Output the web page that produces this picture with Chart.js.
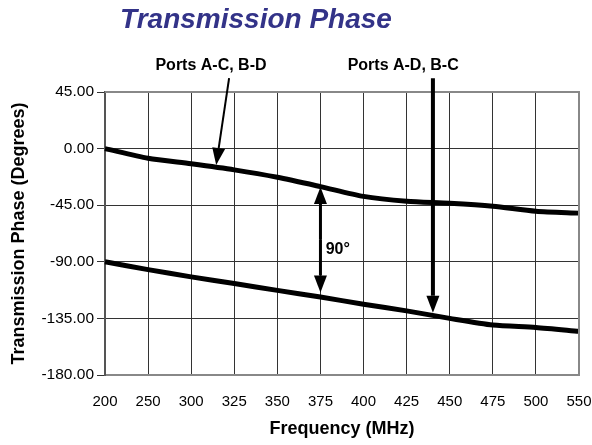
<!DOCTYPE html>
<html>
<head>
<meta charset="utf-8">
<script src="https://cdn.jsdelivr.net/npm/chart.js@4/dist/chart.umd.min.js"></script>
<style>
  html, body { margin: 0; padding: 0; background: #fff; }
  #wrap { width: 592px; height: 445px; }
</style>
</head>
<body>
<div id="wrap"><canvas id="grafico"></canvas></div>
<script>
// dados
const frequencias = ['200', '250', '300', '325', '350', '375', '400', '425', '450', '475', '500', '550'];
const faseACBD = [0, -7.7, -12.1, -16.9, -22.8, -30.2, -38, -41.8, -43.4, -45.8, -49.8, -51.3];
const faseADBC = [-90, -96.2, -102, -107.3, -112.7, -118, -123.7, -129, -135, -140.3, -142.2, -145.3];
const ticksY = [45, 0, -45, -90, -135, -180];

// anotações em coordenadas de dados (índice da categoria, graus)
const setas = [
  { de: [2.88, 56], ate: [2.58, -13], largura: 2 },
  { de: [7.61, 56], ate: [7.61, -130.5], largura: 4 },
  { de: [5, -72], ate: [5, -30.5], largura: 3 },
  { de: [5, -72], ate: [5, -114.5], largura: 3 }
];
const textos = [
  { txt: 'Ports A-C, B-D', pos: [2.46, 65.7], align: 'center', tam: 16 },
  { txt: 'Ports A-D, B-C', pos: [6.92, 65.7], align: 'center', tam: 16 },
  { txt: '90°', pos: [5.12, -80], align: 'left', tam: 16 }
];

const FONTE = 'Arial, "Liberation Sans", sans-serif';

const anotacoes = {
  id: 'anotacoes',
  afterDraw(chart) {
    const { ctx, chartArea: a, scales: { x, y } } = chart;
    ctx.save();
    // moldura cinza em cima e à direita
    ctx.strokeStyle = '#888';
    ctx.lineWidth = 2;
    ctx.beginPath();
    ctx.moveTo(a.left, a.top);
    ctx.lineTo(a.right, a.top);
    ctx.lineTo(a.right, a.bottom);
    ctx.stroke();

    // título
    ctx.fillStyle = '#333388';
    ctx.font = 'italic bold 28px ' + FONTE;
    ctx.textAlign = 'center';
    ctx.textBaseline = 'middle';
    ctx.fillText('Transmission Phase', 256, 20);

    // setas
    ctx.strokeStyle = '#000';
    ctx.fillStyle = '#000';
    setas.forEach(s => {
      const x1 = x.getPixelForValue(s.de[0]), y1 = y.getPixelForValue(s.de[1]);
      const x2 = x.getPixelForValue(s.ate[0]), y2 = y.getPixelForValue(s.ate[1]);
      const ang = Math.atan2(y2 - y1, x2 - x1);
      const comp = 17, meia = 6.5;
      const bx = x2 - comp * Math.cos(ang), by = y2 - comp * Math.sin(ang);
      ctx.lineWidth = s.largura;
      ctx.beginPath();
      ctx.moveTo(x1, y1);
      ctx.lineTo(bx, by);
      ctx.stroke();
      ctx.beginPath();
      ctx.moveTo(x2, y2);
      ctx.lineTo(bx + meia * Math.sin(ang), by - meia * Math.cos(ang));
      ctx.lineTo(bx - meia * Math.sin(ang), by + meia * Math.cos(ang));
      ctx.closePath();
      ctx.fill();
    });

    // textos
    ctx.textBaseline = 'middle';
    textos.forEach(t => {
      ctx.font = 'bold ' + t.tam + 'px ' + FONTE;
      ctx.textAlign = t.align;
      ctx.fillText(t.txt, x.getPixelForValue(t.pos[0]), y.getPixelForValue(t.pos[1]));
    });
    ctx.restore();
  }
};

new Chart(document.getElementById('grafico'), {
  type: 'line',
  data: {
    labels: frequencias,
    datasets: [
      { label: 'Ports A-C, B-D', data: faseACBD, borderColor: '#000', borderWidth: 5, pointRadius: 0, tension: 0.25, fill: false },
      { label: 'Ports A-D, B-C', data: faseADBC, borderColor: '#000', borderWidth: 5, pointRadius: 0, tension: 0.25, fill: false }
    ]
  },
  options: {
    responsive: true,
    maintainAspectRatio: false,
    animation: false,
    layout: { padding: { top: 92, right: 13, left: 0, bottom: 0 } },
    plugins: { legend: { display: false }, tooltip: { enabled: false }, title: { display: false } },
    scales: {
      x: {
        type: 'category',
        offset: false,
        grid: { color: '#333', lineWidth: 1, drawTicks: false },
        border: { color: '#888', width: 2 },
        ticks: { color: '#000', font: { family: FONTE, size: 15 }, padding: 18, maxRotation: 0, autoSkip: false },
        title: { display: true, text: 'Frequency (MHz)', color: '#000', font: { family: FONTE, size: 18, weight: 'bold' }, padding: { top: 0, bottom: 5 } },
        afterFit: s => { s.height = 70; s.paddingLeft = 0; s.paddingRight = 0; }
      },
      y: {
        min: -180,
        max: 45,
        afterBuildTicks: s => { s.ticks = ticksY.map(v => ({ value: v })); },
        grid: { color: '#333', lineWidth: 1, tickLength: 8, tickColor: '#333' },
        border: { color: '#555', width: 2 },
        ticks: { color: '#000', font: { family: FONTE, size: 15.5 }, padding: 3, callback: v => v.toFixed(2) },
        title: { display: true, text: 'Transmission Phase (Degrees)', color: '#000', font: { family: FONTE, size: 18, weight: 'bold' }, padding: { top: 8, bottom: 0 } },
        afterFit: s => { s.width = 105; s.paddingTop = 0; s.paddingBottom = 0; }
      }
    }
  },
  plugins: [anotacoes]
});
</script>
</body>
</html>
